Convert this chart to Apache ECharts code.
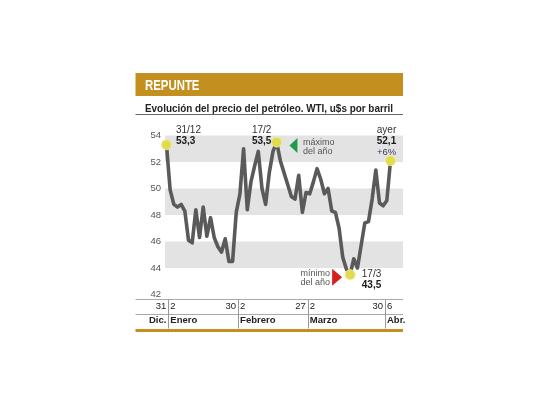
<!DOCTYPE html>
<html><head><meta charset="utf-8">
<script src="https://cdn.jsdelivr.net/npm/echarts@6/dist/echarts.min.js"></script>
<style>html,body{margin:0;padding:0;background:#fff}#c{width:540px;height:405px}</style>
</head><body><div id="c"></div>
<script>
// WTI price, one value per trading day (31/12 .. 6/4)
const prices = [
  53.3, 49.9, 48.8, 48.6, 48.8, 48.3, 46.1, 45.9, 48.4, 46.3,
  48.6, 46.4, 47.8, 46.3, 45.6, 45.2, 46.2, 44.5, 44.5, 48.2,
  49.6, 53.0, 48.4, 50.5, 51.7, 52.8, 50.0, 48.8, 51.2, 52.8,
  53.5, 52.1, 51.2, 50.3, 49.4, 49.2, 51.0, 48.2, 49.7, 49.6,
  50.5, 51.5, 50.7, 49.6, 50.0, 48.3, 48.2, 47.0, 44.8, 43.9,
  43.5, 44.7, 44.0, 45.7, 47.4, 47.5, 49.2, 51.4, 48.9, 48.7,
  49.1, 52.1
];
// index of the first trading day of each month (Ene, Feb, Mar, Abr)
const monthStartIdx = [1, 20, 39, 60];
const dayBefore = ['31', '30', '27', '30'];   // last day shown before each month boundary
const dayAfter = ['2', '2', '2', '6'];        // day shown after each month boundary
const monthBefore = ['Dic.'];
const monthAfter = ['Enero', 'Febrero', 'Marzo', 'Abr.'];
const yTickMin = 42, yTickMax = 54, yTickStep = 2;

const titleText = 'REPUNTE';
const subtitleText = 'Evolución del precio del petróleo. WTI, u$s por barril';
const firstNote = ['31/12', '53,3'];
const maxNote = ['17/2', '53,5'];
const minNote = ['17/3', '43,5'];
const lastNote = ['ayer', '52,1', '+6%'];
const maxText = ['máximo', 'del año'];
const minText = ['mínimo', 'del año'];

const FONT = "'Liberation Sans Narrow','Arial Narrow','Liberation Sans',Arial,sans-serif";
const GOLD = '#c38f1e';
const YEL = '#e0dc4e';

const seps = monthStartIdx.map(i => i - 0.5);
const sepIndex = v => seps.findIndex(s => Math.abs(s - v) < 1e-6);

const iFirst = 0, iLast = prices.length - 1;
const iMax = prices.indexOf(Math.max(...prices));
const iMin = prices.indexOf(Math.min(...prices));
const c = i => [i, prices[i]];

const rich = {
  d: {fontFamily: FONT, fontSize: 10, color: '#333', lineHeight: 11},
  v: {fontFamily: FONT, fontSize: 10, fontWeight: 'bold', color: '#1a1a1a', lineHeight: 11},
  n: {fontFamily: FONT, fontSize: 9, color: '#555', lineHeight: 8.5},
  p: {fontFamily: FONT, fontSize: 9.5, color: '#3d3d5c', lineHeight: 11}
};
const lbl = (align, offset, text) => ({show: true, position: 'inside', align, verticalAlign: 'middle', offset, formatter: text, rich});
const dot = (i, label) => ({coord: c(i), symbol: 'circle', symbolSize: 10, itemStyle: {color: YEL, borderColor: 'rgba(240,238,150,0.8)', borderWidth: 1}, label});
const ghost = (i, label) => ({coord: c(i), symbol: 'circle', symbolSize: 1, itemStyle: {color: 'rgba(0,0,0,0)'}, label});

const X = {type: 'value', min: -0.4, max: 64.4, gridIndex: 0, position: 'bottom', offset: 5,
  axisLine: {show: false}, splitLine: {show: false}, axisTick: {show: false}};
const xl = {fontFamily: FONT, fontSize: 9.5, color: '#222'};

const chart = echarts.init(document.getElementById('c'), null, {renderer: 'canvas'});
chart.setOption({
  animation: false,
  backgroundColor: '#fff',
  grid: {left: 165, right: 137, top: 135.5, bottom: 110.5, containLabel: false},
  xAxis: [
    Object.assign({}, X, {
      axisTick: {show: true, customValues: seps, length: 29, lineStyle: {color: '#999', width: 1}},
      axisLabel: Object.assign({show: true, customValues: seps, align: 'right', margin: 2, padding: [0, 2, 0, 0],
        formatter: v => dayBefore[sepIndex(v)] || ''}, xl)
    }),
    Object.assign({}, X, {
      axisLabel: Object.assign({show: true, customValues: seps, align: 'left', margin: 2, padding: [0, 0, 0, 2],
        formatter: v => dayAfter[sepIndex(v)] || ''}, xl)
    }),
    Object.assign({}, X, {
      axisLabel: Object.assign({show: true, customValues: [seps[0]], align: 'right', margin: 16, padding: [0, 2, 0, 0],
        formatter: v => monthBefore[sepIndex(v)] || ''}, xl, {fontWeight: 'bold'})
    }),
    Object.assign({}, X, {
      axisLabel: Object.assign({show: true, customValues: seps, align: 'left', margin: 16, padding: [0, 0, 0, 2],
        formatter: v => monthAfter[sepIndex(v)] || ''}, xl, {fontWeight: 'bold'})
    })
  ],
  yAxis: {
    type: 'value', min: yTickMin, max: yTickMax, interval: yTickStep,
    axisLine: {show: false}, axisTick: {show: false}, splitLine: {show: false},
    splitArea: {show: true, areaStyle: {color: ['rgba(255,255,255,0)', '#e3e3e3']}},
    axisLabel: {color: '#555', fontSize: 9.5, margin: 4, fontFamily: FONT}
  },
  graphic: [
    {type: 'rect', silent: true, shape: {x: 135.5, y: 73, width: 267.5, height: 23}, style: {fill: GOLD}},
    {type: 'text', silent: true, x: 145, y: 85.5, scaleX: 0.76, style: {text: titleText, x: 0, y: 0, fill: '#fff', font: 'bold 15px ' + FONT, verticalAlign: 'middle'}},
    {type: 'text', silent: true, x: 145, y: 108.5, scaleX: 0.9, style: {text: subtitleText, x: 0, y: 0, fill: '#222', font: 'bold 11px ' + FONT, verticalAlign: 'middle'}},
    {type: 'line', silent: true, shape: {x1: 135.5, y1: 114.5, x2: 403, y2: 114.5}, style: {stroke: '#666', lineWidth: 1}},
    {type: 'line', silent: true, shape: {x1: 135.5, y1: 299.5, x2: 403, y2: 299.5}, style: {stroke: '#aaa', lineWidth: 1}},
    {type: 'line', silent: true, shape: {x1: 135.5, y1: 314.5, x2: 403, y2: 314.5}, style: {stroke: '#aaa', lineWidth: 1}},
    {type: 'line', silent: true, shape: {x1: 135.5, y1: 330.5, x2: 403, y2: 330.5}, style: {stroke: GOLD, lineWidth: 3}}
  ],
  series: [{
    type: 'line', xAxisIndex: 0, yAxisIndex: 0, silent: true,
    data: prices.map((v, i) => [i, v]),
    showSymbol: false, symbol: 'none',
    lineStyle: {color: '#5a5a5a', width: 3.6, join: 'round', cap: 'round'},
    markPoint: {
      silent: true, animation: false,
      data: [
        dot(iFirst, lbl('left', [9.5, -9.3], `{d|${firstNote[0]}}\n{v|${firstNote[1]}}`)),
        dot(iMax, lbl('left', [-24.7, -6.6], `{d|${maxNote[0]}}\n{v|${maxNote[1]}}`)),
        dot(iMin, lbl('left', [11.7, 4.7], `{d|${minNote[0]}}\n{v|${minNote[1]}}`)),
        dot(iLast, lbl('right', [5.7, -19.5], `{d|${lastNote[0]}}\n{v|${lastNote[1]}}\n{p|${lastNote[2]}}`)),
        {coord: c(iMax), symbol: 'triangle', symbolSize: [15, 8], symbolRotate: 90, symbolOffset: [16.8, 3.4],
          itemStyle: {color: '#1f9a4c'}, label: {show: false}},
        {coord: c(iMin), symbol: 'triangle', symbolSize: [17, 10], symbolRotate: -90, symbolOffset: [-13, 2.7],
          itemStyle: {color: '#d62020'}, label: {show: false}},
        ghost(iMax, lbl('left', [26.3, 5], `{n|${maxText[0]}}\n{n|${maxText[1]}}`)),
        ghost(iMin, lbl('right', [-20, 3.5], `{n|${minText[0]}}\n{n|${minText[1]}}`))
      ]
    }
  }]
});
</script></body></html>
